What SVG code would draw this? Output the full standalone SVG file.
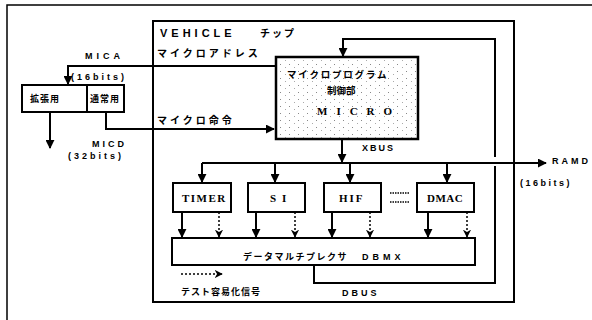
<svg xmlns="http://www.w3.org/2000/svg" width="592" height="320" viewBox="0 0 592 320">
<style>
.ln{fill:none;stroke:#000;stroke-width:2}
.dt{fill:none;stroke:#000;stroke-width:1.5;stroke-dasharray:2,2}
.box{fill:#fff;stroke:#000;stroke-width:2}
.lat{font-family:"Liberation Sans",Arial,sans-serif;font-weight:bold;font-size:9px;letter-spacing:4px;fill:#000}
.mod{font-family:"Liberation Serif","Times New Roman",serif;font-weight:bold;font-size:11px;letter-spacing:1.5px;fill:#000}
.jp{font-family:"Noto Sans CJK JP","Noto Sans",sans-serif;font-weight:bold;font-size:10px;letter-spacing:3px;fill:#000}
</style>
<defs>
<marker id="ah" viewBox="0 0 10 10" refX="9" refY="5" markerWidth="4.5" markerHeight="4.5" orient="auto" markerUnits="strokeWidth">
<path d="M0,0 L10,5 L0,10 z" fill="#000"/>
</marker>
<marker id="ahd" viewBox="0 0 10 10" refX="9" refY="5" markerWidth="5.5" markerHeight="5.5" orient="auto" markerUnits="strokeWidth">
<path d="M0,0 L10,5 L0,10 L3,5 z" fill="#000"/>
</marker>
<pattern id="stip" width="9" height="7" patternUnits="userSpaceOnUse">
<rect width="9" height="7" fill="#fff"/>
<rect x="1" y="1" width="1" height="1" fill="#888"/>
<rect x="6" y="4" width="1" height="1" fill="#aaa"/>
</pattern>
</defs>
<rect width="592" height="320" fill="#fff"/>
<path d="M7,320 V5 H592" fill="none" stroke="#000" stroke-width="1.5"/>
<g id="chip">
<rect x="153" y="21" width="361" height="281" fill="none" stroke="#000" stroke-width="2"/>
<text x="160" y="37" class="lat" style="font-size:11px;letter-spacing:4px">VEHICLE</text>
<text x="260" y="37" class="jp" style="letter-spacing:2px">チップ</text>
</g>
<g id="micro">
<rect x="276" y="57" width="142" height="82" fill="url(#stip)" stroke="#000" stroke-width="2.5"/>
<text x="287" y="78" class="jp" style="font-size:9.5px;letter-spacing:1.8px">マイクロプログラム</text>
<text x="327" y="94" class="jp" style="font-size:9.5px;letter-spacing:0">制御部</text>
<text x="317" y="115" class="mod" style="letter-spacing:9px">MICRO</text>
</g>
<g id="ext">
<rect x="22" y="85" width="65" height="27" class="box"/>
<text x="30" y="102" class="jp" style="font-size:9px;letter-spacing:1px">拡張用</text>
</g>
<g id="norm">
<rect x="87" y="85" width="37" height="27" class="box"/>
<text x="90" y="102" class="jp" style="font-size:9px;letter-spacing:1px">通常用</text>
</g>
<g id="timer">
<rect x="173" y="183" width="58" height="29" class="box"/>
<text x="182" y="202" class="mod">TIMER</text>
</g>
<g id="si">
<rect x="248" y="183" width="57" height="29" class="box"/>
<text x="270" y="202" class="mod" style="letter-spacing:6px">SI</text>
</g>
<g id="hif">
<rect x="324" y="183" width="57" height="29" class="box"/>
<text x="339" y="202" class="mod" style="letter-spacing:2px">HIF</text>
</g>
<g id="dmac">
<rect x="417" y="183" width="57" height="29" class="box"/>
<text x="427" y="202" class="mod" style="letter-spacing:0.5px">DMAC</text>
</g>
<g id="dbmx">
<rect x="172" y="238" width="303" height="27" class="box"/>
<text x="243" y="260" class="jp" style="font-size:9px;letter-spacing:1.5px">データマルチプレクサ</text>
<text x="362" y="260" class="lat" style="letter-spacing:4px">DBMX</text>
</g>
<g id="connectors">
<path d="M276,66 H68 V84" class="ln" marker-end="url(#ah)"/>
<path d="M106,112 V129 H274" class="ln" marker-end="url(#ah)"/>
<path d="M50,112 V148" class="ln" marker-end="url(#ah)"/>
<path d="M495,157 V39 H343 V56" class="ln" marker-end="url(#ah)"/>
<path d="M314,265 V283 H495 V166" class="ln"/>
<path d="M342,139 V162" class="ln" marker-end="url(#ah)"/>
<path d="M202,163 H546" class="ln" marker-end="url(#ah)"/>
<path d="M202,163 V182" class="ln" marker-end="url(#ah)"/>
<path d="M275,163 V182" class="ln" marker-end="url(#ah)"/>
<path d="M350,163 V182" class="ln" marker-end="url(#ah)"/>
<path d="M447,163 V182" class="ln" marker-end="url(#ah)"/>
<path d="M182,212 V237" class="ln" marker-end="url(#ah)"/>
<path d="M256,212 V237" class="ln" marker-end="url(#ah)"/>
<path d="M332,212 V237" class="ln" marker-end="url(#ah)"/>
<path d="M428,212 V237" class="ln" marker-end="url(#ah)"/>
<path d="M219,212 V237" class="dt" marker-end="url(#ahd)"/>
<path d="M295,212 V237" class="dt" marker-end="url(#ahd)"/>
<path d="M370,212 V237" class="dt" marker-end="url(#ahd)"/>
<path d="M467,212 V237" class="dt" marker-end="url(#ahd)"/>
<path d="M390,193 H410 M390,202 H410" class="dt" style="stroke-dasharray:1.5,1"/>
<path d="M181,274 H222" class="dt" marker-end="url(#ahd)"/>
</g>
<g id="labels">
<text x="85" y="59" class="lat">MICA</text>
<text x="71" y="80" class="lat" style="letter-spacing:3px">(16bits)</text>
<text x="157" y="57" class="jp">マイクロアドレス</text>
<text x="157" y="124" class="jp">マイクロ命令</text>
<text x="92" y="147" class="lat" style="letter-spacing:3px">MICD</text>
<text x="68" y="159" class="lat" style="letter-spacing:3px">(32bits)</text>
<text x="362" y="151" class="lat" style="letter-spacing:2px">XBUS</text>
<text x="552" y="164" class="lat" style="letter-spacing:3px">RAMD</text>
<text x="520" y="186" class="lat" style="letter-spacing:2.5px">(16bits)</text>
<text x="342" y="296" class="lat" style="letter-spacing:3px">DBUS</text>
<text x="181" y="295" class="jp" style="font-size:9px;letter-spacing:1px">テスト容易化信号</text>
</g>
</svg>
